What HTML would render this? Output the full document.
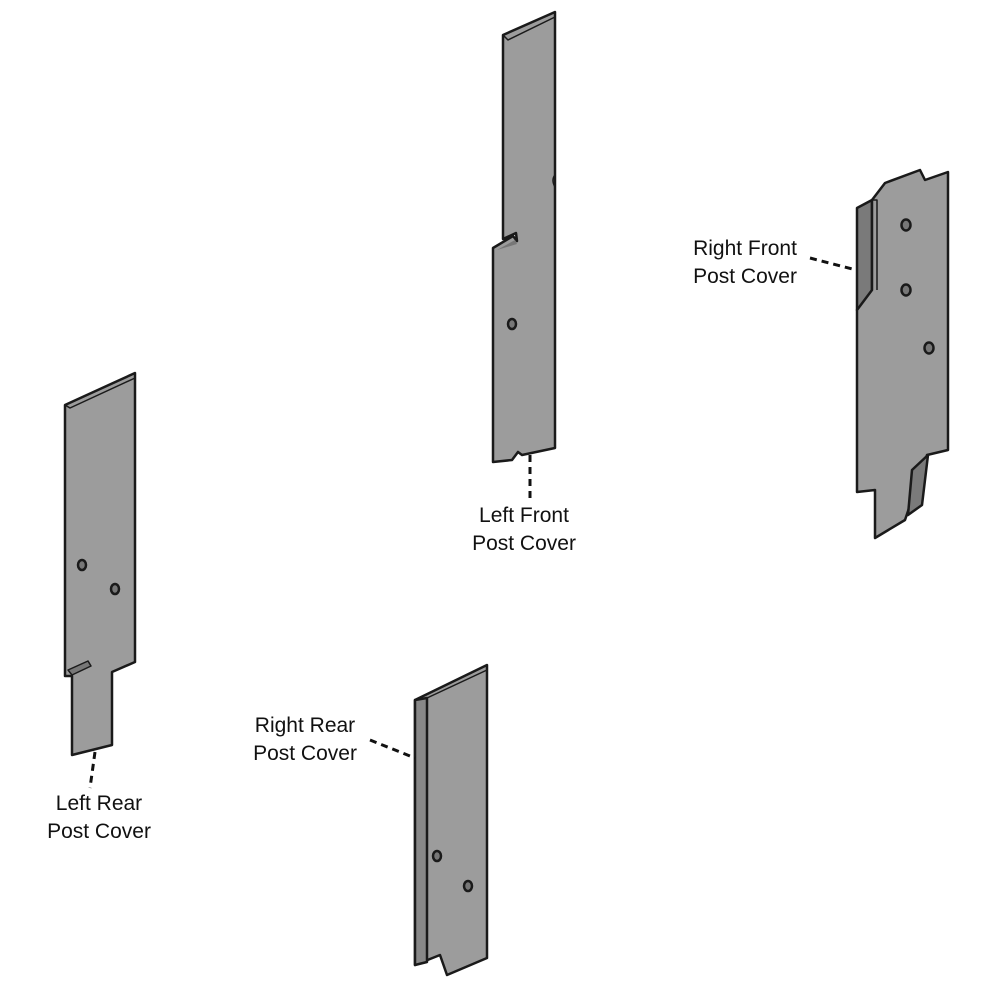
<!DOCTYPE html>
<html><head><meta charset="utf-8"><style>
html,body{margin:0;padding:0;background:#fff;}
svg{display:block}
text{font-family:"Liberation Sans",sans-serif;font-size:21px;fill:#111;text-anchor:middle}
</style></head><body>
<svg width="1000" height="1000" viewBox="0 0 1000 1000">
<g stroke="#1a1a1a" stroke-width="2.5" stroke-linejoin="round" fill="#9c9c9c">
<!-- Left front -->
<polygon points="503,35 555,12 555,448 522,455 518,452 512,460 493,462 493,248 513,236 517,241 516,233 503,239"/>
<polyline points="503,35 508,40 555,17" fill="none" stroke-width="1.5"/>
<polygon points="497,250 515,240 517,244" fill="#777" stroke="none"/>
<path d="M555,175 q-4,5 0,12" fill="none" stroke-width="1.5"/>
<ellipse cx="512" cy="324" rx="4" ry="5" fill="#777"/>
<!-- Right front -->
<polygon points="857,208 872,200 872,300 857,310" fill="#7a7a7a"/>
<polygon points="872,200 885,183 920,170 925,180 948,172 948,450 927,455 905,520 875,538 875,490 857,492 857,310 872,290"/>
<polyline points="872,200 877,200 877,290" fill="none" stroke-width="1.5"/>
<polygon points="912,470 928,455 922,505 908,515" fill="#7a7a7a"/>
<ellipse cx="906" cy="225" rx="4.5" ry="5.5" fill="#777"/>
<ellipse cx="906" cy="290" rx="4.5" ry="5.5" fill="#777"/>
<ellipse cx="929" cy="348" rx="4.5" ry="5.5" fill="#777"/>
<!-- Left rear -->
<polygon points="65,405 135,373 135,662 112,672 112,745 72,755 72,676 65,676"/>
<polyline points="65,405 70,408 135,378" fill="none" stroke-width="1.5"/>
<polygon points="68,670 88,661 91,666 72,675" fill="#777" stroke-width="1.5"/>
<ellipse cx="82" cy="565" rx="4" ry="5" fill="#777"/>
<ellipse cx="115" cy="589" rx="4" ry="5" fill="#777"/>
<!-- Right rear -->
<polygon points="415,700 487,665 487,958 447,975 440,955 415,965"/>
<polygon points="415,700 427,698 427,962 415,965" fill="#888"/>
<line x1="427" y1="698" x2="487" y2="670" stroke-width="1.5"/>
<ellipse cx="437" cy="856" rx="4" ry="5" fill="#777"/>
<ellipse cx="468" cy="886" rx="4" ry="5" fill="#777"/>
</g>
<g stroke="#111" stroke-width="3" stroke-dasharray="7,5" fill="none">
<line x1="530" y1="455" x2="530" y2="500"/>
<line x1="810" y1="258" x2="856" y2="270"/>
<line x1="370" y1="740" x2="415" y2="758"/>
<line x1="95" y1="752" x2="90" y2="788"/>
</g>
<text x="524" y="522">Left Front</text>
<text x="524" y="550">Post Cover</text>
<text x="745" y="255">Right Front</text>
<text x="745" y="283">Post Cover</text>
<text x="305" y="732">Right Rear</text>
<text x="305" y="760">Post Cover</text>
<text x="99" y="810">Left Rear</text>
<text x="99" y="838">Post Cover</text>
</svg>
</body></html>
